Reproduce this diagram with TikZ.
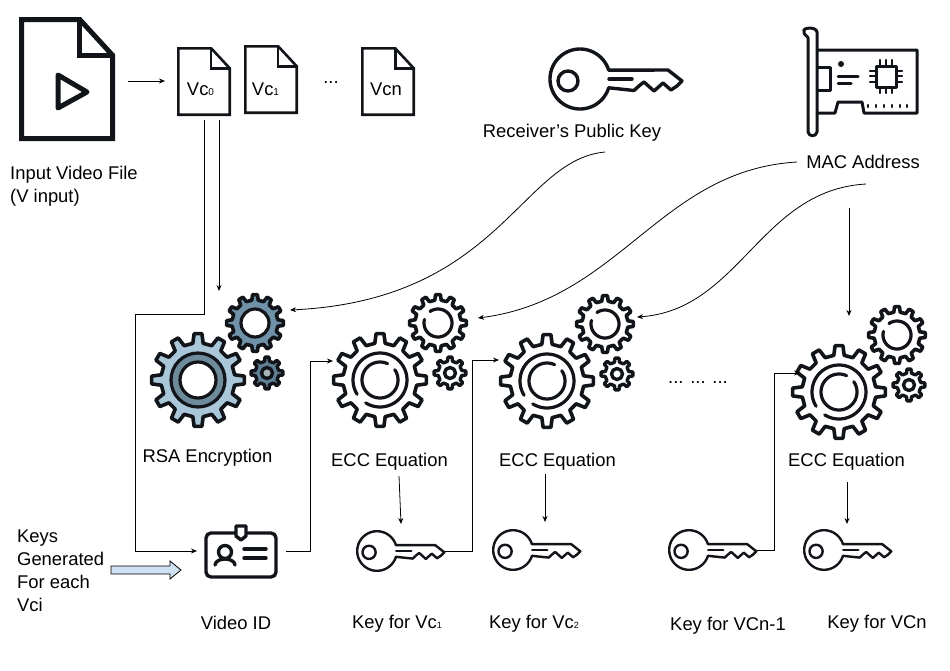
\documentclass[tikz,border=0pt]{standalone}
\usepackage{fontspec}
\setmainfont{Liberation Sans}
\usetikzlibrary{arrows.meta}
\definecolor{inkk}{HTML}{111418}
\definecolor{gearlight}{HTML}{A9C7D9}
\definecolor{gearring}{HTML}{6E8B9C}
\definecolor{gearmid}{HTML}{6F92A8}
\definecolor{gearsmall}{HTML}{5F7F94}
\definecolor{gearcore}{HTML}{A7B4BC}
\definecolor{blockblue}{HTML}{CFE2F3}
\tikzset{
  x=1pt,y=-1pt,
  lab/.style={inner sep=0pt,font=\fontsize{18.4}{23}\selectfont,text=black},
  box/.style={inner sep=0pt,minimum width=#1,minimum height=#1},
  box/.default=10pt,
  keybox/.style={inner sep=0pt,minimum width=88pt,minimum height=40pt},
  link/.style={draw=black,line width=.8pt},
  arrowlink/.style={link,-{Stealth[length=6pt,width=5pt]}},
  icon/.style={draw=inkk,line cap=round,line join=round},
  pics/docicon/.style n args={2}{code={
    \draw[icon,line join=miter,fill=white] (0,0) -- (#1*.64,0) -- (#1,#2*.3) -- (#1,#2) -- (0,#2) -- cycle;
    \draw[icon,line join=miter] (#1*.64,0) -- (#1*.64,#2*.3) -- (#1,#2*.3);
  }},
  pics/keyicon/.style={code={
    \draw[icon] plot[domain=17:343,samples=70] ({30*cos(\x)},{30*sin(\x)});
    \draw[icon] (-12,2) circle[radius=10];
    \draw[icon] (28.7,-8.8) -- (88,-9) -- (102,2) -- (97,7) -- (91,11) -- (83,4) -- (74,12) -- (64,3) -- (60,6) -- (54,11.5) -- (28.7,8.8);
    \draw[icon] (29,0) -- (52,0);
  }},
  pics/gearicon/.style n args={4}{code={
    \def\gp{(360/#1)}
    \draw[icon,fill=#4]  ({-.27*\gp}:#3)
      \foreach \i in {1,...,#1}{ -- ({(\i-1)*\gp-.16*\gp}:#2) -- ({(\i-1)*\gp+.16*\gp}:#2)
        -- ({(\i-1)*\gp+.27*\gp}:#3) -- ({(\i-1)*\gp+.73*\gp}:#3) } -- cycle;
  }},
  pics/eccgears/.style={code={
    \pic[line width=3.6pt] at (0,0) {gearicon={12}{46.5}{37}{white}};
    \draw[icon,line width=3.2pt] plot[domain=148:482,samples=60] ({27*cos(\x)},{27*sin(\x)});
    \draw[icon,line width=3.2pt] plot[domain=-35:295,samples=60] ({18*cos(\x)},{18*sin(\x)});
    \pic[line width=3.6pt] at (58,-57) {gearicon={12}{28.5}{23}{white}};
    \draw[icon,line width=3.2pt] plot[domain=-125:195,samples=50] ({58+14*cos(\x)},{-57+14*sin(\x)});
    \pic[line width=3.4pt] at (70,-7) {gearicon={8}{16}{12}{white}};
    \draw[icon,line width=3.4pt] (70,-7) circle[radius=5.5];
  }},
}
\begin{document}
\begin{tikzpicture}
\useasboundingbox (0,0) rectangle (950,670);

% files
\pic[line width=5pt] at (21.5,19.5) {docicon={91}{119}};
\draw[icon,line width=5pt,fill=white] (58,75) -- (87,92) -- (58,108) -- cycle;
\node[box,minimum width=95pt,minimum height=121pt,anchor=north west] (video) at (20,19) {};
\pic[line width=2.6pt] at (178.3,48.3) {docicon={51.4}{66.4}};
\pic[line width=2.6pt] at (245.3,46.3) {docicon={51.4}{66.4}};
\pic[line width=2.6pt] at (362.3,48.3) {docicon={51.4}{66.4}};
\node[lab] (vc0) at (200.5,89) {Vc{\fontsize{10}{10}\selectfont 0}};
\node[lab] (vc1) at (265.5,89) {Vc{\fontsize{10}{10}\selectfont 1}};
\node[lab] (vcn) at (386,89) {Vcn};
\node[lab] (dots) at (331,83) {...};
\node[lab,align=left,anchor=north west] (inputlab) at (10,166) {Input Video File\\(V input)};

% public key
\pic[line width=3.4pt] at (580,79) {keyicon};
\node[lab] (pubkey) at (572,132.5) {Receiver’s Public Key};

% network card
\draw[icon,line width=3pt] (804,31) .. controls (802,28) and (816,26) .. (817,32) -- (817,132) .. controls (816,137) and (809,137) .. (808,132) -- (808,38) .. controls (808,36) and (803,35) .. (804,31) -- cycle;
\draw[icon,line width=3pt] (817,50) -- (917,50) -- (917,113) -- (864,113) -- (862,102) -- (838,102) -- (835,113) -- (817,113);
\draw[icon,line width=3pt] (818,67) -- (830,67) -- (830,90) -- (818,90);
\fill[inkk] (841,64) circle[radius=3];
\draw[icon,line width=3pt] (838,76) -- (858,76) (838,83) -- (851,83);
\draw[icon,line width=3pt] (876,66) rectangle (896,87);
\foreach \a in {880,886,892}{\draw[icon,line width=2.4pt] (\a,60) -- (\a,66) (\a,87) -- (\a,93);}
\foreach \a in {71,76,82}{\draw[icon,line width=2.4pt] (870,\a) -- (876,\a) (896,\a) -- (902,\a);}
\foreach \a in {868,876,884,892,900,907}{\draw[icon,line width=2.6pt] (\a,105) -- (\a,107);}
\node[lab] (mac) at (863,162) {MAC Address};

% RSA gears
\pic[line width=3.6pt] at (198,380) {gearicon={12}{46.5}{37}{gearlight}};
\draw[icon,line width=3.2pt,fill=gearring] (198,380) circle[radius=27];
\draw[icon,line width=3.2pt,fill=white] (198,380) circle[radius=18];
\pic[line width=3.6pt] at (255,323) {gearicon={12}{28.5}{23}{gearmid}};
\draw[icon,line width=3.2pt,fill=white] (255,323) circle[radius=14];
\pic[line width=3.4pt] at (267,373) {gearicon={8}{16}{12}{gearsmall}};
\draw[icon,line width=3.4pt,fill=gearcore] (267,373) circle[radius=5.5];
\node[box=94pt] (rsa) at (198,380) {};
\node[box=58pt] (rsasmall) at (255,323) {};
\node[lab] (rsalab) at (207.5,457.5) {RSA Encryption};

% ECC gears
\pic at (380,380) {eccgears};
\pic at (547,381) {eccgears};
\pic at (839,392) {eccgears};
\node[box=94pt] (ecca) at (380,380) {};
\node[box=94pt] (eccb) at (547,381) {};
\node[box=94pt] (eccc) at (839,392) {};
\node[lab] (ecclaba) at (389.5,461.5) {ECC Equation};
\node[lab] (ecclabb) at (557.5,461.5) {ECC Equation};
\node[lab] (ecclabc) at (846.5,461.5) {ECC Equation};
\node[lab] (dotsb) at (698,383) {... ... ...};

% card
\draw[icon,line width=3.4pt,rounded corners=5pt] (206,533) rectangle (276,577);
\draw[icon,line width=3.4pt,fill=white] (236,533) -- (236,526) -- (246,526) -- (246,536) -- (241,540) -- (236,536) -- cycle;
\draw[icon,line width=3.4pt] (225,552) circle[radius=6.5];
\draw[icon,line width=3.4pt] (215,565) .. controls (216,557) and (234,557) .. (235,565);
\draw[icon,line width=3.4pt] (244,549) -- (266,549) (244,558) -- (266,558);
\node[box=76pt] (card) at (241,552) {};
\node[lab] (cardlab) at (236,623) {Video ID};

% small keys
\pic[scale=.66,line width=2.4pt] at (377,551) {keyicon};
\pic[scale=.66,line width=2.4pt] at (513,550) {keyicon};
\pic[scale=.66,line width=2.4pt] at (689,550) {keyicon};
\pic[scale=.66,line width=2.4pt] at (824,550) {keyicon};
\node[keybox] (keya) at (401,551) {};
\node[keybox] (keyb) at (537,550) {};
\node[keybox] (keyc) at (713,550) {};
\node[keybox] (keyd) at (848,550) {};
\node[lab] (keylaba) at (397,624) {Key for Vc{\fontsize{9}{9}\selectfont 1}};
\node[lab] (keylabb) at (534,624) {Key for Vc{\fontsize{9}{9}\selectfont 2}};
\node[lab] (keylabc) at (728,626) {Key for VCn-1};
\node[lab] (keylabd) at (877,624) {Key for VCn};

% keys generated
\node[lab,align=left,anchor=north west] (keysgen) at (17,530) {Keys\\Generated\\For each\\Vci};
\draw[draw=black,line width=.8pt,fill=blockblue] (111,566) -- (170,566) -- (170,561) -- (181,570) -- (170,579) -- (170,574) -- (111,574) -- cycle;

% connector ends
\coordinate (vcout) at (204,120);
\coordinate (vcoutb) at (219,120);
\coordinate (rsatop) at (219,291);
\coordinate (cardin) at (197,551);
\coordinate (inputin) at (165,81);
\coordinate (inputout) at (128,81);
\coordinate (pubstart) at (605,152);
\coordinate (rsaend) at (290,310);
\coordinate (macstart) at (797,162);
\coordinate (eccaend) at (478,318);
\coordinate (macstartb) at (866,184);
\coordinate (eccbend) at (637,317);
\coordinate (macstartc) at (849,208);
\coordinate (ecccend) at (849,316);
\coordinate (eccain) at (333,361);
\coordinate (eccbin) at (499,360);
\coordinate (ecccin) at (800,373);

% connectors
\draw[arrowlink] (inputout) -- (inputin);
\draw[arrowlink] (vcout) -- (204,314) -- (135,314) |- (cardin);
\draw[arrowlink] (vcoutb) -- (rsatop);
\draw[arrowlink] (pubstart) .. controls (520,160) and (500,300) .. (rsaend);
\draw[arrowlink] (macstart) .. controls (660,170) and (620,300) .. (eccaend);
\draw[arrowlink] (macstartb) .. controls (760,190) and (740,310) .. (eccbend);
\draw[arrowlink] (macstartc) -- (ecccend);
\draw[arrowlink] (286,551) -- (310,551) |- (eccain);
\draw[arrowlink] (keya.east) -- (472,551) |- (eccbin);
\draw[arrowlink] (keyc.east) -- (774,550) |- (ecccin);
\draw[arrowlink] (399,476) -- (401,524);
\draw[arrowlink] (545,474) -- (545,522);
\draw[arrowlink] (847,482) -- (847,524);
\end{tikzpicture}
\end{document}
